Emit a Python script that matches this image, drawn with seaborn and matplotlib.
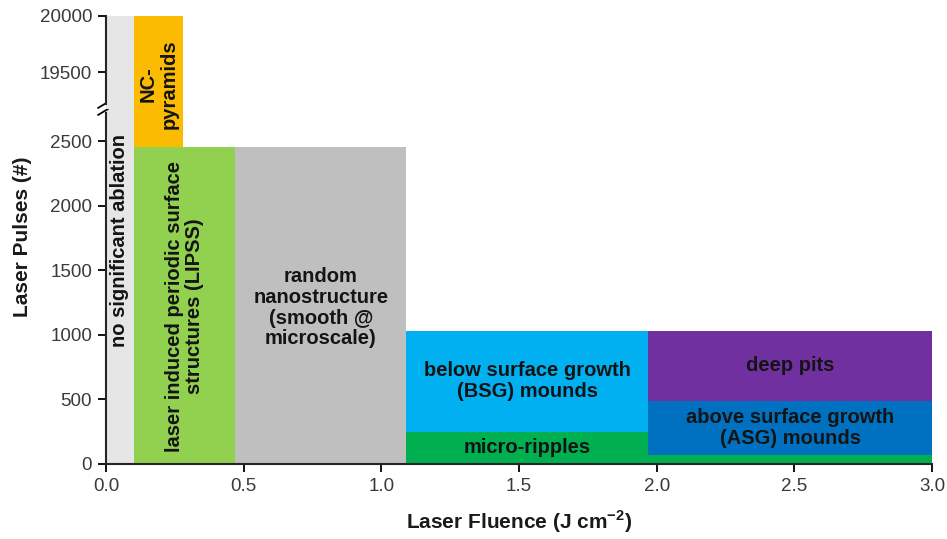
import matplotlib.pyplot as plt
import seaborn as sns
import numpy as np

# Regions of the processing map: fluence range (J cm^-2) and pulse range (#)
labels = ["no significant ablation", "NC-\npyramids",
          "laser induced periodic surface\nstructures (LIPSS)",
          "random\nnanostructure\n(smooth @\nmicroscale)",
          "below surface growth\n(BSG) mounds", "micro-ripples",
          "deep pits", "above surface growth\n(ASG) mounds", ""]
fluence_lo = [0.0, 0.10, 0.10, 0.47, 1.09, 1.09, 1.97, 1.97, 1.97]
fluence_hi = [0.10, 0.28, 0.47, 1.09, 1.97, 1.97, 3.00, 3.00, 3.00]
pulses_lo = [0, 2450, 0, 0, 250, 0, 490, 70, 0]
pulses_hi = [20000, 20000, 2450, 2450, 1030, 250, 1030, 490, 70]
colors = ["#e6e6e6", "#fbbb00", "#92d050", "#bfbfbf", "#00b0f0",
          "#00b050", "#7030a0", "#0070c0", "#00b050"]

x_ticks = np.arange(0, 3.01, 0.5)
y_ticks_low = [0, 500, 1000, 1500, 2000, 2500]
y_ticks_high = [19500, 20000]

sns.set_style("ticks")
plt.rcParams["font.family"] = ["Liberation Sans", "DejaVu Sans"]

fig = plt.figure(figsize=(9.47, 5.39), dpi=100)
L, R = 106 / 947, 932 / 947
ax_top = fig.add_axes([L, 1 - 109 / 539, R - L, (109 - 16) / 539])
ax = fig.add_axes([L, 1 - 464 / 539, R - L, (464 - 109) / 539], sharex=ax_top)
ax_top.set_zorder(2)
ax_top.patch.set_visible(False)

for a in (ax_top, ax):
    a.bar(fluence_lo, np.subtract(pulses_hi, pulses_lo),
          width=np.subtract(fluence_hi, fluence_lo), bottom=pulses_lo,
          align="edge", color=colors, linewidth=0)

ax.set_xlim(0, 3.0)
ax.set_ylim(0, 2748)
ax_top.set_ylim(19170, 20000)

ax.set_xticks(x_ticks)
ax.set_xticklabels([f"{t:.1f}" for t in x_ticks])
ax.set_yticks(y_ticks_low)
ax_top.set_yticks(y_ticks_high)

for a in (ax_top, ax):
    a.spines["top"].set_visible(False)
    a.spines["right"].set_visible(False)
    a.spines["left"].set_linewidth(1.5)
    a.spines["bottom"].set_linewidth(1.5)
    a.tick_params(direction="out", length=6, width=1.3, color="black",
                  labelsize=13.5, labelcolor="#3a3a3a", pad=4)
ax_top.spines["bottom"].set_visible(False)
ax_top.tick_params(axis="x", bottom=False, labelbottom=False)
ax_top.spines["left"].set_bounds(19214, 20000)
ax.spines["left"].set_bounds(0, 2717)

# break marks on the y axis
for yp in (105, 112):
    yf = 1 - yp / 539
    fig.add_artist(plt.Line2D([98 / 947, 108 / 947], [yf - 3 / 539, yf + 3 / 539],
                              color="black", linewidth=1.3))

# region labels
txt = dict(ha="center", va="center", fontsize=14.5, fontweight="bold",
           color="#141414", linespacing=1.12)
for i, lab in enumerate(labels):
    if not lab:
        continue
    xc = (fluence_lo[i] + fluence_hi[i]) / 2
    yc = (pulses_lo[i] + pulses_hi[i]) / 2
    if i == 0:
        ax.text(xc, 1730, lab, rotation=90, **txt)
    elif i == 1:
        ax_top.text(xc, 19390, lab, rotation=90, **txt)
    elif i == 2:
        ax.text(xc, 1220, lab, rotation=90, **txt)
    elif i == 3:
        ax.text(xc, 1210, lab, **txt)
    else:
        ax.text(xc, yc, lab, **txt)

ax.set_xlabel("Laser Fluence (J cm$^{\\mathregular{-2}}$)", fontsize=15,
              fontweight="bold", color="#1a1a1a")
ax.xaxis.set_label_coords(0.5, -0.125)
ax.set_ylabel("Laser Pulses (#)", fontsize=15, fontweight="bold", color="#1a1a1a")
ax.yaxis.set_label_coords(-0.09, 0.64)

fig.savefig("out.png", dpi=100)
